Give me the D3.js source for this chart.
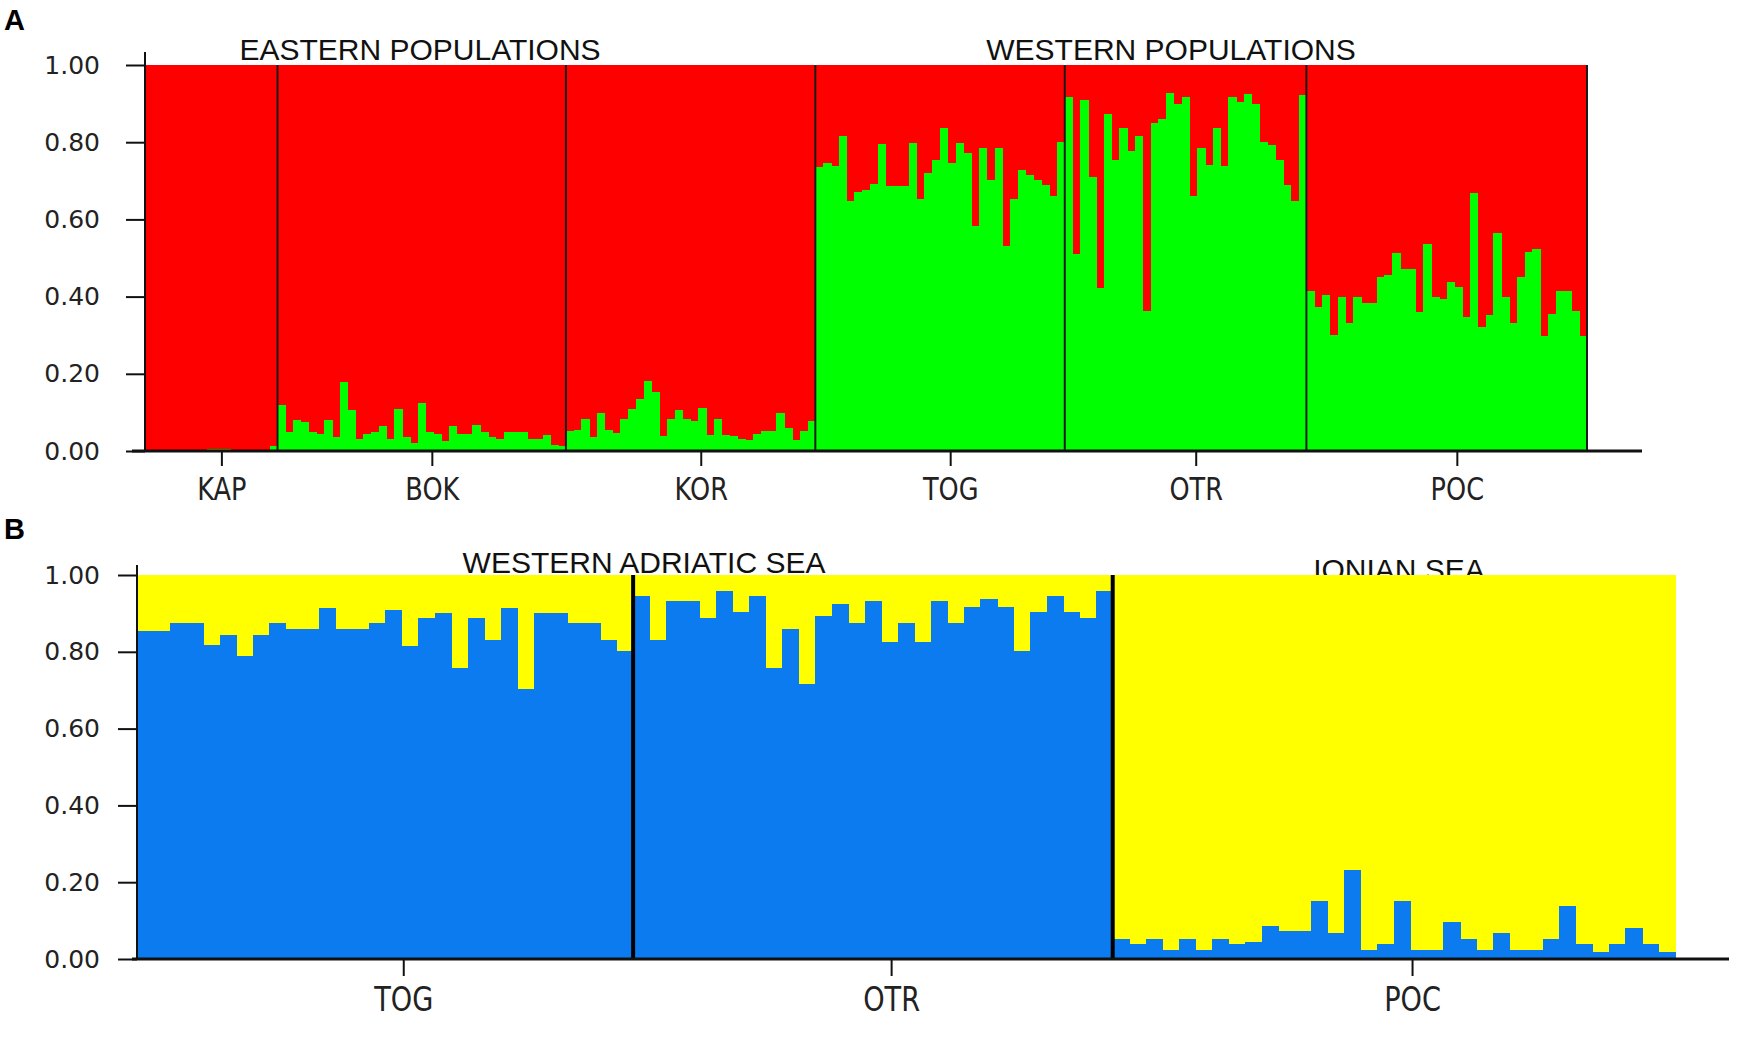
<!DOCTYPE html>
<html>
<head>
<meta charset="utf-8">
<script src="https://cdn.jsdelivr.net/npm/d3@7"></script>
<style>
  body { margin: 0; background: #fff; }
</style>
</head>
<body>
<div id="wrapper"></div>
<script>
const yTicks = [0, 0.2, 0.4, 0.6, 0.8, 1.0];

// panel A: membership in the green cluster per individual, red is the rest
const popsA = ["KAP", "BOK", "KOR", "TOG", "OTR", "POC"];
const kapA = [0, 0, 0, 0, 0, 0, 0, 0, 0.004, 0.004, 0.004, 0, 0, 0, 0, 0, 0.012];
const bokA = [0.12, 0.05, 0.08, 0.075, 0.05, 0.045, 0.08, 0.035, 0.18, 0.105,
  0.03, 0.045, 0.05, 0.065, 0.03, 0.11, 0.035, 0.02, 0.125, 0.05,
  0.045, 0.025, 0.065, 0.045, 0.045, 0.068, 0.05, 0.035, 0.03, 0.05,
  0.048, 0.05, 0.03, 0.03, 0.042, 0.015, 0.012];
const korA = [0.051, 0.055, 0.082, 0.035, 0.099, 0.055, 0.046, 0.082, 0.108, 0.134,
  0.182, 0.152, 0.038, 0.082, 0.105, 0.082, 0.079, 0.112, 0.042, 0.084,
  0.042, 0.038, 0.032, 0.029, 0.044, 0.051, 0.051, 0.099, 0.06, 0.029,
  0.051, 0.077];
const togA = [0.736, 0.745, 0.738, 0.816, 0.648, 0.671, 0.675, 0.691, 0.795, 0.686,
  0.686, 0.686, 0.799, 0.652, 0.719, 0.754, 0.838, 0.745, 0.797, 0.771,
  0.582, 0.786, 0.703, 0.786, 0.532, 0.654, 0.727, 0.714, 0.701, 0.688,
  0.660, 0.801];
const otrA = [0.916, 0.511, 0.909, 0.710, 0.423, 0.873, 0.755, 0.836, 0.777, 0.816,
  0.362, 0.849, 0.86, 0.928, 0.899, 0.916, 0.661, 0.786, 0.740, 0.838,
  0.738, 0.916, 0.905, 0.925, 0.900, 0.801, 0.792, 0.753, 0.688, 0.648,
  0.922];
const pocA = [0.414, 0.374, 0.403, 0.301, 0.398, 0.331, 0.398, 0.383, 0.383, 0.450,
  0.455, 0.513, 0.472, 0.472, 0.359, 0.537, 0.400, 0.394, 0.437, 0.426,
  0.346, 0.668, 0.320, 0.353, 0.564, 0.398, 0.331, 0.450, 0.515, 0.524,
  0.299, 0.356, 0.414, 0.414, 0.363, 0.299];
const titlesA = ["EASTERN POPULATIONS", "WESTERN POPULATIONS"];

// panel B: membership in the blue cluster, yellow is the rest
const popsB = ["TOG", "OTR", "POC"];
const togB = [0.853, 0.853, 0.875, 0.875, 0.818, 0.844, 0.788, 0.844, 0.875, 0.860,
  0.860, 0.915, 0.860, 0.860, 0.875, 0.909, 0.816, 0.887, 0.902, 0.759,
  0.887, 0.831, 0.915, 0.703, 0.902, 0.902, 0.875, 0.875, 0.831, 0.803];
const otrB = [0.945, 0.831, 0.931, 0.931, 0.889, 0.959, 0.903, 0.945, 0.759, 0.860,
  0.717, 0.894, 0.924, 0.874, 0.931, 0.825, 0.874, 0.825, 0.931, 0.874,
  0.916, 0.937, 0.916, 0.803, 0.903, 0.945, 0.903, 0.887, 0.959];
const pocB = [0.052, 0.038, 0.052, 0.024, 0.052, 0.024, 0.052, 0.038, 0.045, 0.085,
  0.072, 0.072, 0.152, 0.067, 0.232, 0.024, 0.038, 0.152, 0.024, 0.024,
  0.096, 0.052, 0.024, 0.067, 0.024, 0.024, 0.052, 0.138, 0.038, 0.018,
  0.038, 0.080, 0.038, 0.018];
const titlesB = ["WESTERN ADRIATIC SEA", "IONIAN SEA"];

const panels = [
  {
    letter: "A", letterY: 30,
    pops: popsA, values: [kapA, bokA, korA, togA, otrA, pocA], titles: titlesA,
    titleX: [420, 1171], titleY: [60, 60],
    left: 145, right: 1587, top: 65, bottom: 451,
    axisStart: 132, axisEnd: 1642, axisTop: 52,
    lower: "#00ff00", upper: "#ff0000",
    sepColor: "#1a1a1a", sepWidth: 2, endLine: true,
    labelPad: 26, labelShift: 1.3, popTick: 15, popPad: 11, popFont: 32
  },
  {
    letter: "B", letterY: 539,
    pops: popsB, values: [togB, otrB, pocB], titles: titlesB,
    titleX: [644, 1399], titleY: [573, 580],
    left: 137, right: 1675, top: 575, bottom: 959,
    axisStart: 132, axisEnd: 1729, axisTop: 565,
    lower: "#0b7bef", upper: "#ffff00",
    sepColor: "#000", sepWidth: 4, endLine: false,
    labelPad: 18, labelShift: 1.1, popTick: 17, popPad: 11, popFont: 34
  }
];

const svg = d3.select("#wrapper").append("svg")
  .attr("width", 1750)
  .attr("height", 1040)
  .style("background", "#fff");

const drawPanel = (p) => {
  const rows = [];
  p.pops.forEach((name, k) => {
    p.values[k].forEach((v, i) => rows.push({ pop: name, id: name + "_" + i, v }));
  });

  const xScale = d3.scaleBand()
    .domain(rows.map(d => d.id))
    .range([p.left, p.right]);

  const yScale = d3.scaleLinear()
    .domain([0, 1])
    .range([p.bottom, p.top]);

  const bounds = svg.append("g");

  bounds.append("text")
    .attr("x", 4)
    .attr("y", p.letterY)
    .attr("font-family", "Liberation Sans, Arial, sans-serif")
    .attr("font-weight", "bold")
    .attr("font-size", 29)
    .attr("fill", "#000")
    .text(p.letter);

  // titles go in first so the bars cover their lower edge
  bounds.selectAll(".title")
    .data(p.titles)
    .join("text")
    .attr("class", "title")
    .attr("x", (d, i) => p.titleX[i])
    .attr("y", (d, i) => p.titleY[i])
    .attr("text-anchor", "middle")
    .attr("font-family", "Liberation Sans, Arial, sans-serif")
    .attr("font-size", 30)
    .attr("fill", "#111")
    .text(d => d);

  const bw = xScale.bandwidth();

  bounds.selectAll(".upper")
    .data(rows)
    .join("rect")
    .attr("x", d => xScale(d.id))
    .attr("width", bw + 0.6)
    .attr("y", yScale(1))
    .attr("height", d => yScale(d.v) - yScale(1))
    .attr("fill", p.upper)
    .attr("shape-rendering", "crispEdges");

  bounds.selectAll(".lower")
    .data(rows)
    .join("rect")
    .attr("x", d => xScale(d.id))
    .attr("width", bw + 0.6)
    .attr("y", d => yScale(d.v))
    .attr("height", d => yScale(0) - yScale(d.v))
    .attr("fill", p.lower)
    .attr("shape-rendering", "crispEdges");

  const popBounds = p.pops.map(name => {
    const ids = rows.filter(r => r.pop === name);
    const x0 = xScale(ids[0].id);
    const x1 = xScale(ids[ids.length - 1].id) + bw;
    return { name, x0, x1 };
  });

  const seps = popBounds.slice(1).map(b => b.x0);
  if (p.endLine) seps.push(popBounds[popBounds.length - 1].x1);

  bounds.selectAll(".sep")
    .data(seps)
    .join("line")
    .attr("x1", d => d)
    .attr("x2", d => d)
    .attr("y1", yScale(1))
    .attr("y2", yScale(0))
    .attr("stroke", p.sepColor)
    .attr("stroke-width", p.sepWidth);

  // y axis
  const yAxisGenerator = d3.axisLeft(yScale)
    .tickValues(yTicks)
    .tickFormat(d3.format(".2f"))
    .tickSize(19)
    .tickPadding(p.labelPad);

  const yAxis = bounds.append("g")
    .attr("transform", `translate(${p.left}, 0)`)
    .call(yAxisGenerator);
  yAxis.select(".domain").remove();
  yAxis.selectAll(".tick line").attr("stroke", "#111").attr("stroke-width", 2);
  yAxis.selectAll(".tick text")
    .attr("font-family", "DejaVu Sans, Verdana, sans-serif")
    .attr("font-size", 25)
    .attr("fill", "#222");

  bounds.append("line")
    .attr("x1", p.left).attr("x2", p.left)
    .attr("y1", p.axisTop).attr("y2", yScale(0))
    .attr("stroke", "#111")
    .attr("stroke-width", 2);

  // x axis with one tick per population
  const popScale = d3.scaleOrdinal()
    .domain(p.pops)
    .range(popBounds.map(b => (b.x0 + b.x1) / 2 + bw * p.labelShift));

  const xAxisGenerator = d3.axisBottom(popScale)
    .tickSize(p.popTick)
    .tickPadding(p.popPad);

  const xAxis = bounds.append("g")
    .attr("transform", `translate(0, ${yScale(0)})`)
    .call(xAxisGenerator);
  xAxis.select(".domain").remove();
  xAxis.selectAll(".tick line").attr("stroke", "#111").attr("stroke-width", 2);
  xAxis.selectAll(".tick text")
    .attr("font-family", "DejaVu Sans, Verdana, sans-serif")
    .attr("font-size", p.popFont)
    .attr("fill", "#222")
    .attr("transform", "scale(0.8, 1)");

  bounds.append("line")
    .attr("x1", p.axisStart).attr("x2", p.axisEnd)
    .attr("y1", yScale(0)).attr("y2", yScale(0))
    .attr("stroke", "#111")
    .attr("stroke-width", 3);
};

panels.forEach(drawPanel);
</script>
</body>
</html>
